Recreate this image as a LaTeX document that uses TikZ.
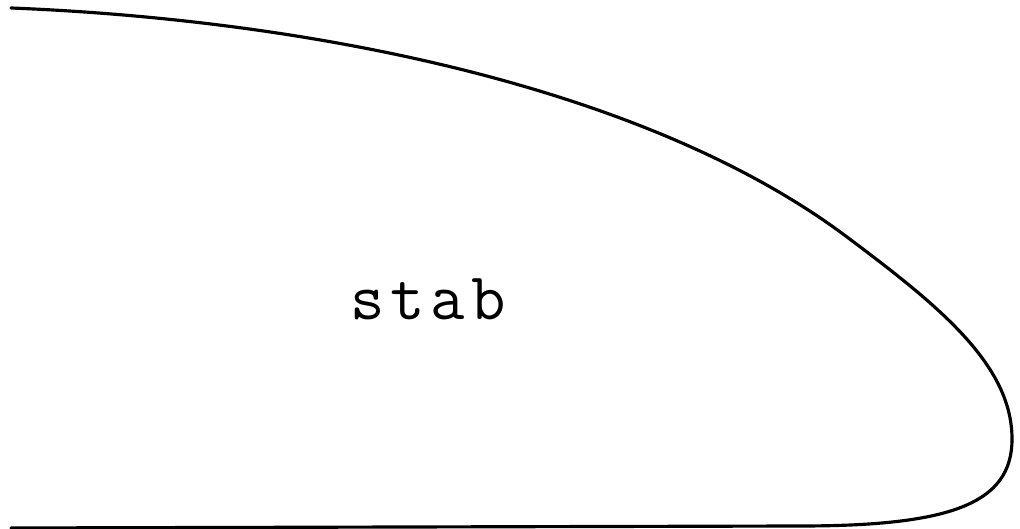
\documentclass[tikz,border=0pt]{standalone}
\usetikzlibrary{math}

\begin{document}
\begin{tikzpicture}[scale=1]
\tikzmath{
\W=10.20;
\H=5.29;
}
\useasboundingbox (0,0) rectangle (\W,\H);

% upper edge, nose, lower edge
\draw[line width=0.9, line cap=round] (0.11,5.21)
  .. controls (3.11,5.09) and (6.47,4.42) .. (8.47,2.92)
  .. controls (9.37,2.245) and (10.12,1.65) .. (10.12,0.90)
  .. controls (10.12,0.25) and (9.50,0.03) .. (8.00,0.03)
  -- (0.11,0.01);

\node[anchor=base, inner sep=0] (lbl) at (4.28,2.09) {\fontsize{19}{19}\selectfont\ttfamily s\kern1.7pt t\kern1.7pt a\kern1.7pt b};

\end{tikzpicture}
\end{document}
